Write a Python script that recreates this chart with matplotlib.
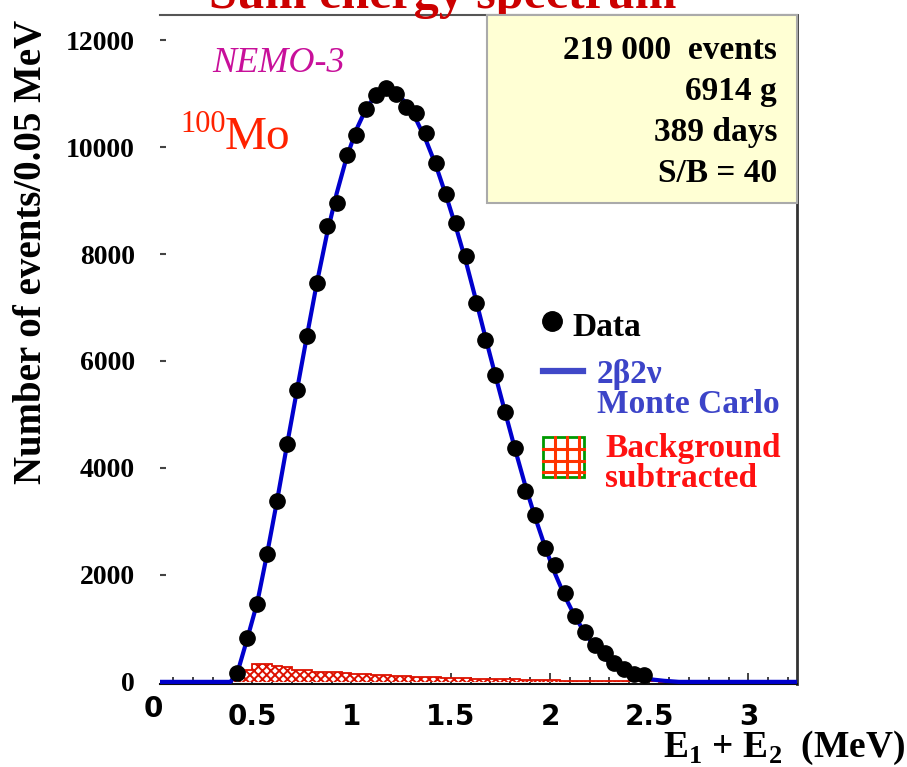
import numpy as np
import matplotlib
matplotlib.use("Agg")
import matplotlib.pyplot as plt
from matplotlib.patches import Rectangle
from matplotlib.lines import Line2D

W, H = 907, 767

# data points, 0.05 MeV bins
e_data = np.arange(0.425, 2.476, 0.05)
n_data = [170, 820, 1460, 2390, 3380, 4450, 5460, 6470, 7460, 8520,
          8950, 9850, 10220, 10710, 10970, 11100, 10990, 10750, 10640, 10260,
          9700, 9120, 8580, 7960, 7080, 6390, 5740, 5050, 4370, 3570,
          3120, 2500, 2190, 1660, 1230, 940, 690, 540, 360, 240,
          150, 130]

# 2b2v Monte Carlo
e_mc = [0.0, 0.39, 0.425, 0.475, 0.525, 0.575, 0.625, 0.675, 0.725, 0.775,
        0.825, 0.875, 0.925, 0.975, 1.025, 1.075, 1.125, 1.175, 1.225, 1.275,
        1.325, 1.375, 1.425, 1.475, 1.525, 1.575, 1.625, 1.675, 1.725, 1.775,
        1.825, 1.875, 1.925, 1.975, 2.025, 2.075, 2.125, 2.175, 2.225, 2.275,
        2.325, 2.375, 2.425, 2.475, 2.525, 2.575, 2.65, 3.25]
n_mc = [0, 0, 170, 810, 1480, 2400, 3390, 4430, 5450, 6460,
        7450, 8350, 9130, 9800, 10330, 10730, 10980, 11080, 11020, 10820,
        10520, 10130, 9660, 9110, 8520, 7880, 7170, 6440, 5730, 5030,
        4340, 3680, 3080, 2530, 2030, 1600, 1230, 920, 660, 450,
        290, 180, 110, 70, 40, 20, 0, 0]

# background (subtracted)
bkg_edges = np.arange(0.40, 2.601, 0.05)
bkg = [180, 230, 340, 330, 290, 280, 230, 220, 190, 190,
       180, 160, 150, 145, 125, 120, 115, 110, 95, 90,
       90, 80, 70, 65, 60, 60, 50, 45, 45, 40,
       30, 30, 30, 25, 20, 20, 15, 15, 15, 12,
       10, 10, 8, 5]

xticks = [0.5, 1, 1.5, 2, 2.5, 3]
yticks = [0, 2000, 4000, 6000, 8000, 10000, 12000]
info = ["219 000  events", "6914 g", "389 days", "S/B = 40"]

plt.rcParams['hatch.linewidth'] = 1.4
plt.rcParams['mathtext.fontset'] = 'custom'
plt.rcParams['mathtext.rm'] = 'Liberation Serif:bold'
plt.rcParams['mathtext.bf'] = 'Liberation Serif:bold'


def fx(x):
    return x / W


def fy(y):
    return 1 - y / H


fig = plt.figure(figsize=(W / 100, H / 100), dpi=100)
ax = fig.add_axes([fx(160), fy(684), (797 - 160) / W, (684 - 15) / H])

ax.stairs(bkg, bkg_edges, baseline=0, fill=True, facecolor='white',
          edgecolor='#dd1100', hatch='xxxx', lw=1.3, zorder=2)
ax.plot(e_mc, n_mc, color='#0000cc', lw=3, zorder=3)
ax.plot(e_data, n_data, 'o', color='black', ms=11, zorder=4)

ax.set_xlim(0.035, 3.245)
ax.set_ylim(-40, 12470)

ax.set_xticks(xticks)
ax.set_xticklabels(['0.5', '1', '1.5', '2', '2.5', '3'])
ax.set_xticks(np.arange(0.1, 3.21, 0.1), minor=True)
ax.set_yticks(yticks)
ax.set_yticklabels([str(v) for v in yticks])
ax.tick_params(axis='x', which='major', direction='in', length=8, width=1.2,
               color='#222222', pad=14)
ax.tick_params(axis='x', which='minor', direction='in', length=5, width=1.2,
               color='#222222')
ax.tick_params(axis='y', direction='in', length=4, width=1.5, color='#444444',
               pad=18)
for lab in ax.get_xticklabels():
    lab.set_fontfamily('DejaVu Sans')
    lab.set_fontweight('bold')
    lab.set_fontsize(20)
for lab in ax.get_yticklabels():
    lab.set_fontfamily('Liberation Serif')
    lab.set_fontweight('bold')
    lab.set_fontsize(20)
ax.text(0, -0.016, '0', transform=ax.get_xaxis_transform(), ha='center',
        va='top', fontsize=20, fontweight='bold', family='DejaVu Sans',
        clip_on=False)

ax.spines['left'].set_visible(False)
ax.spines['bottom'].set_color('#111111')
ax.spines['bottom'].set_linewidth(1.5)
ax.spines['right'].set_color('#333333')
ax.spines['right'].set_linewidth(2)
ax.spines['top'].set_color('#555555')
ax.spines['top'].set_linewidth(1.5)

serif = 'Liberation Serif'

# title, cut at the top edge as in the original slide
fig.text(fx(443), fy(8), 'Sum energy spectrum', ha='center', va='baseline',
         fontsize=36, fontweight='bold', family=serif, color='#cc0000')

fig.text(fx(32), fy(252), 'Number of events/0.05 MeV', rotation=90,
         ha='center', va='center', fontsize=28, fontweight='bold',
         family=serif)
fig.text(fx(905), fy(757), r'E$_1$ + E$_2$  (MeV)', ha='right',
         va='baseline', fontsize=27, fontweight='bold', family=serif)

fig.text(fx(212), fy(72), 'NEMO-3', ha='left', va='baseline', fontsize=26,
         style='italic', family=serif, color='#c8109a')
fig.text(fx(180), fy(132), '100', ha='left', va='baseline', fontsize=22,
         family=serif, color='#ff2200')
fig.text(fx(225), fy(149), 'Mo', ha='left', va='baseline', fontsize=34,
         family=serif, color='#ff2200')

# info box
fig.add_artist(Rectangle((fx(487), fy(203)), (797 - 487) / W, (203 - 15) / H,
                         transform=fig.transFigure, facecolor='#ffffd4',
                         edgecolor='#aaaaaa', lw=1.5, zorder=5))
for i, line in enumerate(info):
    fig.text(fx(777), fy(59 + 41 * i), line, ha='right', va='baseline',
             fontsize=24, fontweight='bold', family=serif, zorder=6)

# legend
fig.add_artist(Line2D([fx(552)], [fy(321)], marker='o', ms=14,
                      color='black', transform=fig.transFigure))
fig.text(fx(572), fy(336), 'Data', ha='left', va='baseline', fontsize=24,
         fontweight='bold', family=serif)
fig.add_artist(Line2D([fx(543), fx(583)], [fy(371), fy(371)], lw=4.5,
                      color='#4048c8', transform=fig.transFigure))
fig.text(fx(597), fy(383), '2β2ν', ha='left', va='baseline', fontsize=24,
         fontweight='bold', family=serif, color='#3c44c8')
fig.text(fx(597), fy(413), 'Monte Carlo', ha='left', va='baseline',
         fontsize=24, fontweight='bold', family=serif, color='#3c44c8')
for k in range(1, 4):
    xg = 543 + k * 41 / 3.4
    yg = 437 + k * 40 / 3.4
    fig.add_artist(Line2D([fx(xg), fx(xg)], [fy(437), fy(477)], lw=2.2,
                          color='#ff3300', transform=fig.transFigure))
    fig.add_artist(Line2D([fx(543), fx(584)], [fy(yg), fy(yg)], lw=2.2,
                          color='#ff3300', transform=fig.transFigure))
fig.add_artist(Rectangle((fx(543), fy(477)), 41 / W, 40 / H,
                         transform=fig.transFigure, facecolor='none',
                         edgecolor='#009900', lw=2))
fig.text(fx(605), fy(457), 'Background', ha='left', va='baseline',
         fontsize=24, fontweight='bold', family=serif, color='#ff1111')
fig.text(fx(605), fy(487), 'subtracted', ha='left', va='baseline',
         fontsize=24, fontweight='bold', family=serif, color='#ff1111')

plt.savefig("out.png", dpi=100)
